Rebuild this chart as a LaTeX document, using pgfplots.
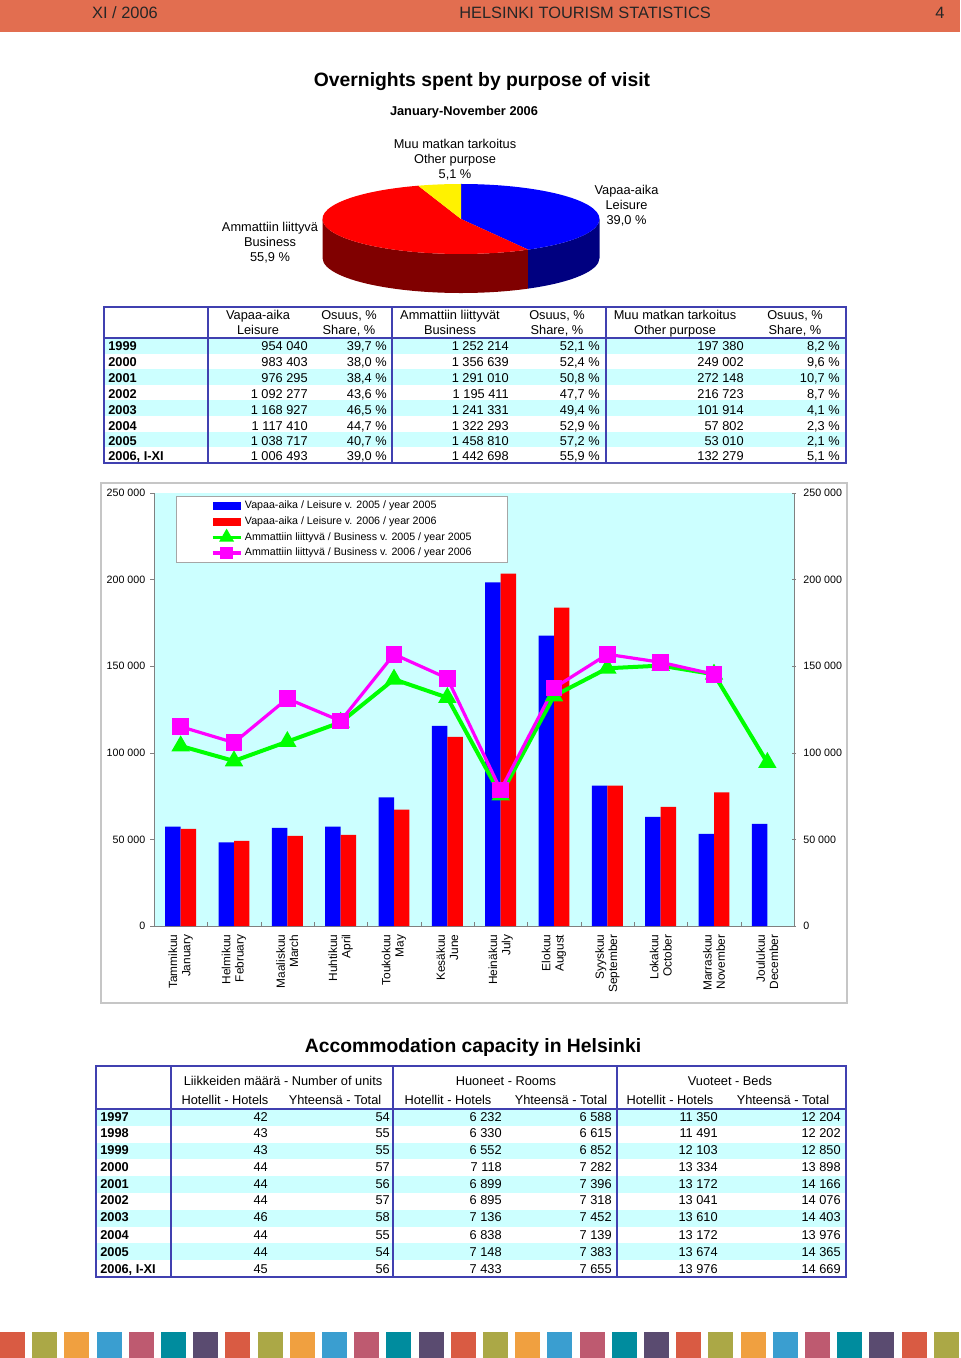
\documentclass[border=0pt]{standalone}
\usepackage{fontspec}
\setmainfont{Liberation Sans}
\usepackage{pgfplots}
\pgfplotsset{compat=1.18}
\definecolor{hdr}{RGB}{226,110,80}
\definecolor{tline}{RGB}{64,64,176}
\definecolor{cyanbg}{RGB}{204,255,255}
\definecolor{dkred}{RGB}{128,0,0}
\definecolor{dkblue}{RGB}{0,0,128}
\definecolor{lgreen}{RGB}{0,255,0}
\definecolor{mag}{RGB}{255,0,255}
\definecolor{f0}{RGB}{217,91,67}
\definecolor{f1}{RGB}{171,168,70}
\definecolor{f2}{RGB}{240,160,64}
\definecolor{f3}{RGB}{58,158,208}
\definecolor{f4}{RGB}{190,90,112}
\definecolor{f5}{RGB}{0,140,158}
\definecolor{f6}{RGB}{90,75,112}
\newcommand\tfont{\fontsize{9.6}{11}\selectfont}
\newcommand\lab[3]{\node[anchor=base,inner sep=0pt,font=\tfont] at (#1,{-#2-4.6}) {#3};}
\newcommand\tA[8]{%
 \node[anchor=base west,inner sep=0pt,font=\tfont\bfseries] at (108,{-#1-4.6}) {#2};
 \node[anchor=base east,inner sep=0pt,font=\tfont] at (308,{-#1-4.6}) {#3};
 \node[anchor=base east,inner sep=0pt,font=\tfont] at (387,{-#1-4.6}) {#4};
 \node[anchor=base east,inner sep=0pt,font=\tfont] at (509,{-#1-4.6}) {#5};
 \node[anchor=base east,inner sep=0pt,font=\tfont] at (600,{-#1-4.6}) {#6};
 \node[anchor=base east,inner sep=0pt,font=\tfont] at (744,{-#1-4.6}) {#7};
 \node[anchor=base east,inner sep=0pt,font=\tfont] at (840,{-#1-4.6}) {#8};}
\newcommand\tB[8]{%
 \node[anchor=base west,inner sep=0pt,font=\tfont\bfseries] at (100,{-#1-4.6}) {#2};
 \node[anchor=base east,inner sep=0pt,font=\tfont] at (268,{-#1-4.6}) {#3};
 \node[anchor=base east,inner sep=0pt,font=\tfont] at (390,{-#1-4.6}) {#4};
 \node[anchor=base east,inner sep=0pt,font=\tfont] at (502,{-#1-4.6}) {#5};
 \node[anchor=base east,inner sep=0pt,font=\tfont] at (612,{-#1-4.6}) {#6};
 \node[anchor=base east,inner sep=0pt,font=\tfont] at (718,{-#1-4.6}) {#7};
 \node[anchor=base east,inner sep=0pt,font=\tfont] at (841,{-#1-4.6}) {#8};}
\begin{document}
\begin{tikzpicture}
\useasboundingbox (0pt,0pt) rectangle (720pt,-1018.5pt);
\begin{scope}[x=0.75pt,y=0.75pt]
% header
\fill[hdr] (0,0) rectangle (960,-32);
\node[anchor=base,inner sep=0pt,font=\fontsize{12.3}{14}\selectfont,text=black!85] at (125,-18.9) {XI / 2006};
\node[anchor=base,inner sep=0pt,font=\fontsize{12.3}{14}\selectfont,text=black!85] at (585,-18.9) {HELSINKI TOURISM STATISTICS};
\node[anchor=base,inner sep=0pt,font=\fontsize{12.3}{14}\selectfont,text=black!85] at (940,-18.9) {4};
% titles
\node[anchor=base,inner sep=0pt,font=\fontsize{14.5}{16}\selectfont\bfseries] at (482,-87) {Overnights spent by purpose of visit};
\node[anchor=base,inner sep=0pt,font=\tfont\bfseries] at (464,-115.6) {January-November 2006};
% pie
\fill[dkred] (322.5,-219) arc[start angle=180,end angle=299,x radius=138.5,y radius=35] -- ++(0,-39) arc[start angle=299,end angle=180,x radius=138.5,y radius=35] -- cycle;
\fill[dkblue] ({461+138.5*cos(299)},{-219+35*sin(299)}) arc[start angle=299,end angle=360,x radius=138.5,y radius=35] -- ++(0,-39) arc[start angle=360,end angle=299,x radius=138.5,y radius=35] -- cycle;
\fill[blue] (461,-219) -- (461,-184) arc[start angle=90,end angle=-61,x radius=138.5,y radius=35] -- cycle;
\fill[red] (461,-219) -- ({461+138.5*cos(108)},{-219+35*sin(108)}) arc[start angle=108,end angle=299,x radius=138.5,y radius=35] -- cycle;
\fill[yellow] (461,-219) -- (461,-184) arc[start angle=90,end angle=108,x radius=138.5,y radius=35] -- cycle;
\lab{455}{144}{Muu matkan tarkoitus}
\lab{455}{159}{Other purpose}
\lab{455}{174}{5,1 \%}
\lab{626.5}{190}{Vapaa-aika}
\lab{626.5}{205}{Leisure}
\lab{626.5}{220}{39,0 \%}
\lab{270}{227}{Ammattiin liittyvä}
\lab{270}{242}{Business}
\lab{270}{257}{55,9 \%}
% table 1
\foreach \i in {0,2,4,6} \fill[cyanbg] (104,{-338-15.6*\i}) rectangle (846,{-338-15.6*(\i+1)});
\draw[tline,line width=0.8pt] (104,-307) rectangle (846,-463);
\draw[tline,line width=0.8pt] (104,-338) -- (846,-338);
\foreach \x in {208,392,606} \draw[tline,line width=0.8pt] (\x,-307) -- (\x,-463);
\lab{258}{315}{Vapaa-aika}\lab{258}{330}{Leisure}
\lab{349}{315}{Osuus, \%}\lab{349}{330}{Share, \%}
\lab{450}{315}{Ammattiin liittyvät}\lab{450}{330}{Business}
\lab{557}{315}{Osuus, \%}\lab{557}{330}{Share, \%}
\lab{675}{315}{Muu matkan tarkoitus}\lab{675}{330}{Other purpose}
\lab{795}{315}{Osuus, \%}\lab{795}{330}{Share, \%}
\tA{346}{1999}{954 040}{39,7 \%}{1 252 214}{52,1 \%}{197 380}{8,2 \%}
\tA{362}{2000}{983 403}{38,0 \%}{1 356 639}{52,4 \%}{249 002}{9,6 \%}
\tA{378}{2001}{976 295}{38,4 \%}{1 291 010}{50,8 \%}{272 148}{10,7 \%}
\tA{394}{2002}{1 092 277}{43,6 \%}{1 195 411}{47,7 \%}{216 723}{8,7 \%}
\tA{410}{2003}{1 168 927}{46,5 \%}{1 241 331}{49,4 \%}{101 914}{4,1 \%}
\tA{426}{2004}{1 117 410}{44,7 \%}{1 322 293}{52,9 \%}{57 802}{2,3 \%}
\tA{441}{2005}{1 038 717}{40,7 \%}{1 458 810}{57,2 \%}{53 010}{2,1 \%}
\tA{456}{2006, I-XI}{1 006 493}{39,0 \%}{1 442 698}{55,9 \%}{132 279}{5,1 \%}
% chart frame
\draw[gray!45,line width=1.2pt] (101,-483) rectangle (847,-1003);
% table 2
\node[anchor=base,inner sep=0pt,font=\fontsize{14.5}{16}\selectfont\bfseries] at (473,-1052) {Accommodation capacity in Helsinki};
\foreach \i in {0,2,4,6,8} \fill[cyanbg] (96,{-1109-16.8*\i}) rectangle (846,{-1109-16.8*(\i+1)});
\draw[tline,line width=0.8pt] (96,-1066) rectangle (846,-1277);
\draw[tline,line width=0.8pt] (96,-1109) -- (846,-1109);
\foreach \x in {171,393,617} \draw[tline,line width=0.8pt] (\x,-1066) -- (\x,-1277);
\lab{283}{1081}{Liikkeiden määrä - Number of units}
\lab{506}{1081}{Huoneet - Rooms}
\lab{730}{1081}{Vuoteet - Beds}
\lab{225}{1100}{Hotellit - Hotels}\lab{335}{1100}{Yhteensä - Total}
\lab{448}{1100}{Hotellit - Hotels}\lab{561}{1100}{Yhteensä - Total}
\lab{670}{1100}{Hotellit - Hotels}\lab{783}{1100}{Yhteensä - Total}
\tB{1117}{1997}{42}{54}{6 232}{6 588}{11 350}{12 204}
\tB{1133}{1998}{43}{55}{6 330}{6 615}{11 491}{12 202}
\tB{1150}{1999}{43}{55}{6 552}{6 852}{12 103}{12 850}
\tB{1167}{2000}{44}{57}{7 118}{7 282}{13 334}{13 898}
\tB{1184}{2001}{44}{56}{6 899}{7 396}{13 172}{14 166}
\tB{1200}{2002}{44}{57}{6 895}{7 318}{13 041}{14 076}
\tB{1217}{2003}{46}{58}{7 136}{7 452}{13 610}{14 403}
\tB{1235}{2004}{44}{55}{6 838}{7 139}{13 172}{13 976}
\tB{1252}{2005}{44}{54}{7 148}{7 383}{13 674}{14 365}
\tB{1269}{2006, I-XI}{45}{56}{7 433}{7 655}{13 976}{14 669}
% footer
\foreach \i in {0,...,29} {\pgfmathtruncatemacro\k{mod(\i,7)}\fill[color=f\k] ({\i*32.2},-1332) rectangle ({\i*32.2+25},-1358);}
\end{scope}
\begin{axis}[
 at={(115.5pt,-694.5pt)}, anchor=south west,
 scale only axis, width=480pt, height=324.75pt,
 xmin=-0.5, xmax=11.5, ymin=0, ymax=250000,
 axis x line*=bottom, axis y line*=left,
 axis line style={gray,line width=0.6pt},
 axis background/.style={fill=cyanbg},
 xtick={0,...,11},
 xticklabels={{Tammikuu\\January},{Helmikuu\\February},{Maaliskuu\\March},{Huhtikuu\\April},{Toukokuu\\May},{Kesäkuu\\June},{Heinäkuu\\July},{Elokuu\\August},{Syyskuu\\September},{Lokakuu\\October},{Marraskuu\\November},{Joulukuu\\December}},
 xticklabel style={rotate=90,anchor=east,align=right,font=\fontsize{8.9}{9.9}\selectfont},
 major x tick style={draw=none},
 minor xtick={0.5,1.5,...,10.5},
 minor x tick style={gray,yshift=3pt},
 minor tick length=3pt,
 ytick={0,50000,100000,150000,200000,250000},
 yticklabels={0,50 000,100 000,150 000,200 000,250 000},
 scaled y ticks=false,
 major tick length=3pt,
 tick align=outside,
 ytick style={gray},
 yticklabel style={font=\fontsize{8}{9}\selectfont},
 legend style={at={(0.0344,0.993)},anchor=north west,draw=gray!70,fill=white,font=\fontsize{8}{9}\selectfont,inner xsep=26pt,inner ysep=2pt,row sep=1.5pt,nodes={inner ysep=1.5pt}},
 legend cell align=left,
]
\addplot[ybar,bar width=11.6pt,bar shift=-5.8pt,fill=blue,draw=none,
 legend image code/.code={\fill[blue] (0pt,-3pt) rectangle (21pt,3pt);}]
 coordinates {(0,57370) (1,48320) (2,56600) (3,57370) (4,74300) (5,115500) (6,198470) (7,167670) (8,81040) (9,62950) (10,53130) (11,58910)};
\addlegendentry{\makebox[169pt][l]{Vapaa-aika / Leisure v. 2005 / year 2005}}
\addplot[ybar,bar width=11.6pt,bar shift=5.8pt,fill=red,draw=none,
 legend image code/.code={\fill[red] (0pt,-3pt) rectangle (21pt,3pt);}]
 coordinates {(0,56020) (1,49090) (2,51980) (3,52550) (4,67180) (5,109150) (6,203480) (7,183840) (8,81040) (9,68720) (10,77190)};
\addlegendentry{\makebox[169pt][l]{Vapaa-aika / Leisure v. 2006 / year 2006}}
\addplot[lgreen,line width=3pt,mark=triangle*,mark size=5pt,mark options={solid},
 legend image code/.code={\draw[lgreen,line width=2.5pt] (0pt,0pt) -- (21pt,0pt); \draw[lgreen,mark=triangle*,mark size=3.5pt] plot coordinates {(10.5pt,0pt)};}]
 coordinates {(0,103950) (1,95290) (2,106450) (3,117620) (4,142450) (5,131860) (6,75600) (7,132830) (8,148800) (9,150340) (10,145340) (11,94330)};
\addlegendentry{\makebox[169pt][l]{Ammattiin liittyvä / Business v. 2005 / year 2005}}
\addplot[mag,line width=2.4pt,mark=square*,mark size=5pt,mark options={solid},
 legend image code/.code={\draw[mag,line width=2.5pt] (0pt,0pt) -- (21pt,0pt); \draw[mag,mark=square*,mark size=3.5pt] plot coordinates {(10.5pt,0pt)};}]
 coordinates {(0,115100) (1,105880) (2,131290) (3,118390) (4,156890) (5,143030) (6,78540) (7,137450) (8,156890) (9,152270) (10,145340)};
\addlegendentry{\makebox[169pt][l]{Ammattiin liittyvä / Business v. 2006 / year 2006}}
\end{axis}
\begin{axis}[
 at={(115.5pt,-694.5pt)}, anchor=south west,
 scale only axis, width=480pt, height=324.75pt,
 xmin=-0.5, xmax=11.5, ymin=0, ymax=250000,
 axis x line=none, axis y line*=right,
 axis line style={gray,line width=0.6pt},
 ytick={0,50000,100000,150000,200000,250000},
 yticklabels={0,50 000,100 000,150 000,200 000,250 000},
 scaled y ticks=false,
 major tick length=3pt, tick align=center,
 ytick style={gray},
 yticklabel style={font=\fontsize{8}{9}\selectfont,xshift=2pt},
]
\end{axis}
\end{tikzpicture}
\end{document}
